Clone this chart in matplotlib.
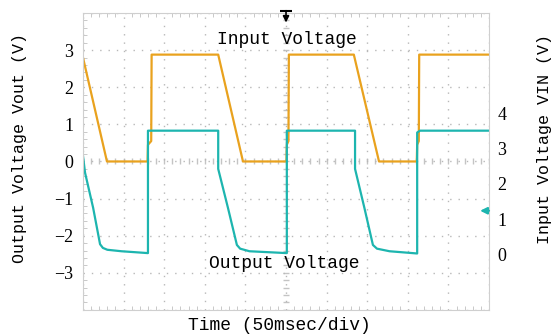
import matplotlib

matplotlib.use("Agg")

import matplotlib.pyplot as plt
import numpy as np

# time in divisions (50 msec/div), values in volts on the left (Vout) scale
t_in = [0.00, 0.59, 1.59, 1.60, 1.68, 1.69, 3.33, 3.94, 5.01, 5.02, 5.06, 5.07,
        6.67, 7.29, 8.22, 8.23, 8.27, 8.28, 10.0]
v_in = [2.80, 0.00, 0.00, 0.45, 0.55, 2.88, 2.88, 0.00, 0.00, 0.45, 0.55, 2.88,
        2.88, 0.00, 0.00, 0.45, 0.55, 2.88, 2.88]

t_out = [0.00, 0.05, 0.25, 0.42, 0.49, 0.60, 0.95, 1.60, 1.60, 3.33, 3.33, 3.57,
         3.79, 3.87, 4.10, 5.02, 5.02, 6.70, 6.70, 6.93, 7.14, 7.24, 7.55, 8.23,
         8.23, 8.30, 10.0]
v_out = [0.15, -0.30, -1.25, -2.23, -2.33, -2.38, -2.42, -2.47, 0.83, 0.83, -0.20, -1.25,
         -2.25, -2.35, -2.42, -2.47, 0.83, 0.83, -0.20, -1.25, -2.25, -2.35, -2.42, -2.48,
         0.78, 0.83, 0.83]

left_ticks = [-3, -2, -1, 0, 1, 2, 3]
right_ticks = [0, 1, 2, 3, 4]

ORANGE = "#E9A21E"
CYAN = "#1DB5AF"
MONO = "Liberation Mono"
SERIF = "Liberation Serif"

fig = plt.figure(figsize=(5.57, 3.35), dpi=100)
ax = fig.add_axes([0.149, 0.075, 0.729, 0.886])

ax.plot(t_in, v_in, color=ORANGE, lw=1.6)
ax.plot(t_out, v_out, color=CYAN, lw=1.6)

ax.set_xlim(0, 10)
ax.set_ylim(-4, 4)

# scope graticule
ax.set_xticks(np.arange(0, 11, 1))
ax.set_yticks(np.arange(-4, 5, 1))
ax.grid(True, color="#b8b8b8", linestyle=(0, (1, 5)), lw=1.0)
ax.set_xticklabels([])
ax.set_yticklabels(["" if v not in left_ticks else str(v).replace("-", "\u2212")
                    for v in range(-4, 5)], fontfamily=SERIF, fontsize=13)
ax.set_xticks(np.arange(0, 10.01, 0.2), minor=True)
ax.set_yticks(np.arange(-4, 4.01, 0.2), minor=True)
ax.tick_params(axis="both", which="major", length=0, pad=7)
ax.tick_params(axis="both", which="minor", direction="in", length=3, color="#c0c0c0",
               top=True, right=True)
for sp in ax.spines.values():
    sp.set_color("#cfcfcf")

# minor ticks along the centre lines
mx = np.arange(0, 10.01, 0.2)
my = np.arange(-4, 4.01, 0.2)
ax.plot(mx, np.zeros_like(mx), ls="none", marker="|", ms=4, color="#c4c4c4", zorder=1)
ax.plot(np.full_like(my, 5.0), my, ls="none", marker="_", ms=4, color="#c4c4c4", zorder=1)

ax2 = ax.twinx()
ax2.set_ylim(-1.583, 6.86)
ax2.set_yticks(right_ticks)
ax2.set_yticklabels([str(v) for v in right_ticks], fontfamily=SERIF, fontsize=13)
ax2.tick_params(axis="y", length=0, pad=6)
for sp in ax2.spines.values():
    sp.set_visible(False)

# trigger marker and channel reference marker
ax.plot([0.5], [1.008], transform=ax.transAxes, marker="_", ms=9, mew=1.5,
        color="black", clip_on=False)
ax.annotate("", xy=(0.5, 0.968), xytext=(0.5, 1.008), xycoords="axes fraction",
            arrowprops=dict(arrowstyle="-|>", color="black", lw=1.2,
                            mutation_scale=9, shrinkA=0, shrinkB=0))
ax.annotate("", xy=(0.978, 0.334), xytext=(1.0, 0.334), xycoords="axes fraction",
            arrowprops=dict(arrowstyle="-|>", color=CYAN, lw=1.5,
                            mutation_scale=10, shrinkA=0, shrinkB=0))

ax.text(5.01, 3.3, "Input Voltage", ha="center", va="center",
        fontfamily=MONO, fontsize=13)
ax.text(4.96, -2.74, "Output Voltage", ha="center", va="center",
        fontfamily=MONO, fontsize=13)

fig.text(279 / 557, 1 - 325 / 335, "Time (50msec/div)", ha="center", va="center",
         fontfamily=MONO, fontsize=13)
fig.text(20 / 557, 1 - 148 / 335, "Output Voltage Vout (V)", ha="center", va="center",
         rotation=90, fontfamily=MONO, fontsize=12)
fig.text(545 / 557, 1 - 139 / 335, "Input Voltage VIN (V)", ha="center", va="center",
         rotation=90, fontfamily=MONO, fontsize=12)

fig.savefig("out.png", dpi=100)
plt.close(fig)
